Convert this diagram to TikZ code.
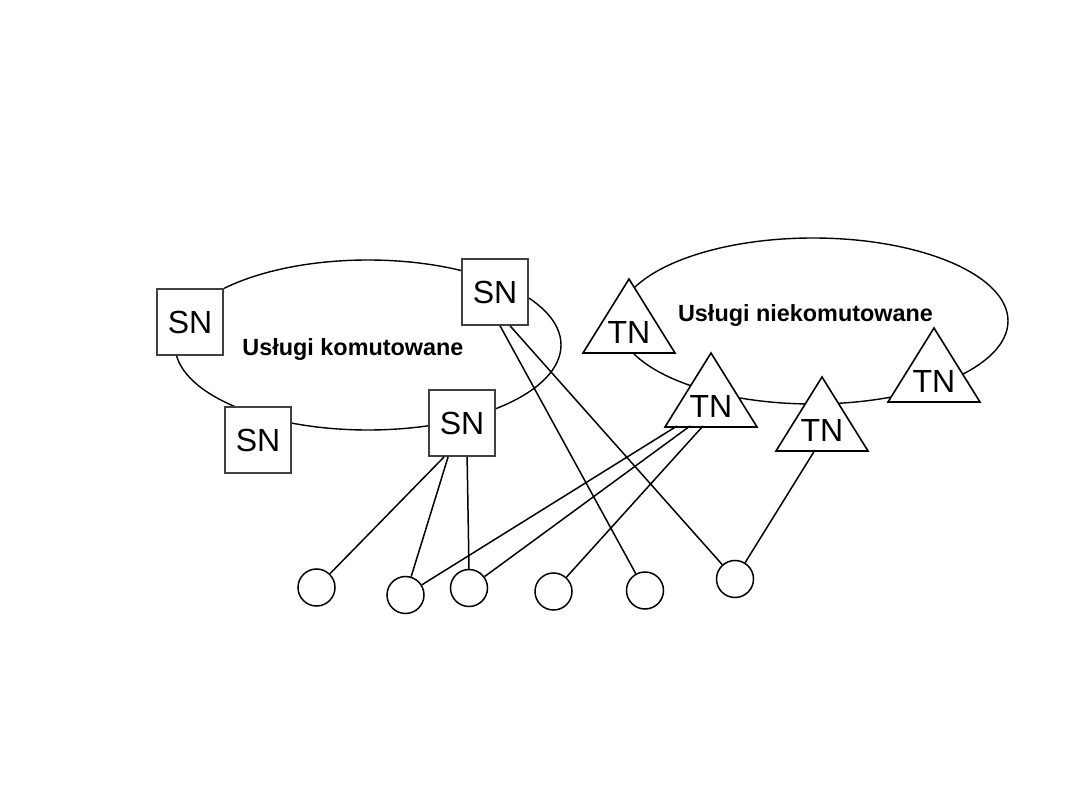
\documentclass[tikz,border=0pt]{standalone}
\usepackage{fontspec}
\setmainfont{Liberation Sans}
\usetikzlibrary{calc}
\tikzset{
  ring/.style={draw=black, line width=1.4pt},
  conn/.style={draw=black, line width=1.5pt},
  snbox/.style={draw=black!75, fill=white, line width=1.8pt, minimum width=66pt, minimum height=66pt, inner sep=0pt, font=\fontsize{32}{36}\selectfont},
  tnline/.style={draw=black, fill=white, line width=1.6pt, line join=miter},
  tnlabel/.style={inner sep=0pt, font=\fontsize{32}{36}\selectfont},
  leaf/.style={draw=black, line width=1.5pt, circle, minimum size=37pt, inner sep=0pt},
  svclabel/.style={inner sep=0pt, anchor=base, font=\bfseries\fontsize{23.4}{26}\selectfont}
}
\newcommand\tnnode[3]{%
  \draw[tnline] (#2,#3) -- ++(-46,74) -- ++(92,0) -- cycle;
  \node[tnlabel] (#1) at (#2,#3+53) {TN};
}
\begin{document}
\begin{tikzpicture}[x=1pt,y=-1pt]
\useasboundingbox (0,0) rectangle (1080,810);
% service rings
\draw[ring] (368,345) ellipse [x radius=193, y radius=85];
\draw[ring] (813,321) ellipse [x radius=195, y radius=83];
% labels
\node[svclabel] (lk) at (353,356) {Usługi komutowane};
\node[svclabel] (ln) at (805.5,322) {Usługi niekomutowane};
% SN nodes
\node[snbox] (sn1) at (190,322) {SN};
\node[snbox] (sn2) at (495,292) {SN};
\node[snbox] (sn3) at (462,423) {SN};
\node[snbox] (sn4) at (258,440) {SN};
% TN nodes
\tnnode{tn1}{629}{279}
\tnnode{tn2}{711}{353}
\tnnode{tn3}{822}{377}
\tnnode{tn4}{934}{328}
% terminals
\node[leaf] (c1) at (316.5,587.5) {};
\node[leaf] (c2) at (405.5,595) {};
\node[leaf] (c3) at (469,588) {};
\node[leaf] (c4) at (553.5,591.5) {};
\node[leaf] (c5) at (645,590.5) {};
\node[leaf] (c6) at (735,579) {};
% attachment points
\coordinate (sn3a) at ($(sn3.south west)+(16,0)$);
\coordinate (sn3b) at ($(sn3.south west)+(20,0)$);
\coordinate (sn3c) at ($(sn3.south west)+(39,0)$);
\coordinate (sn2a) at ($(sn2.south west)+(39,0)$);
\coordinate (sn2b) at ($(sn2.south west)+(49,0)$);
\coordinate (tn2a) at ($(tn2)+(-34,20)$);
\coordinate (tn2b) at ($(tn2)+(-21,20)$);
\coordinate (tn2c) at ($(tn2)+(-8,20)$);
\coordinate (tn3a) at ($(tn3)+(-7,20)$);
% connectors
\draw[conn] (sn3a) -- (c1);
\draw[conn] (sn3b) -- (c2);
\draw[conn] (sn3c) -- (c3.north);
\draw[conn] (tn2a) -- (c2);
\draw[conn] (tn2b) -- (c3);
\draw[conn] (tn2c) -- (c4);
\draw[conn] (sn2a) -- (c5);
\draw[conn] (sn2b) -- (c6);
\draw[conn] (tn3a) -- (c6);
\end{tikzpicture}
\end{document}
